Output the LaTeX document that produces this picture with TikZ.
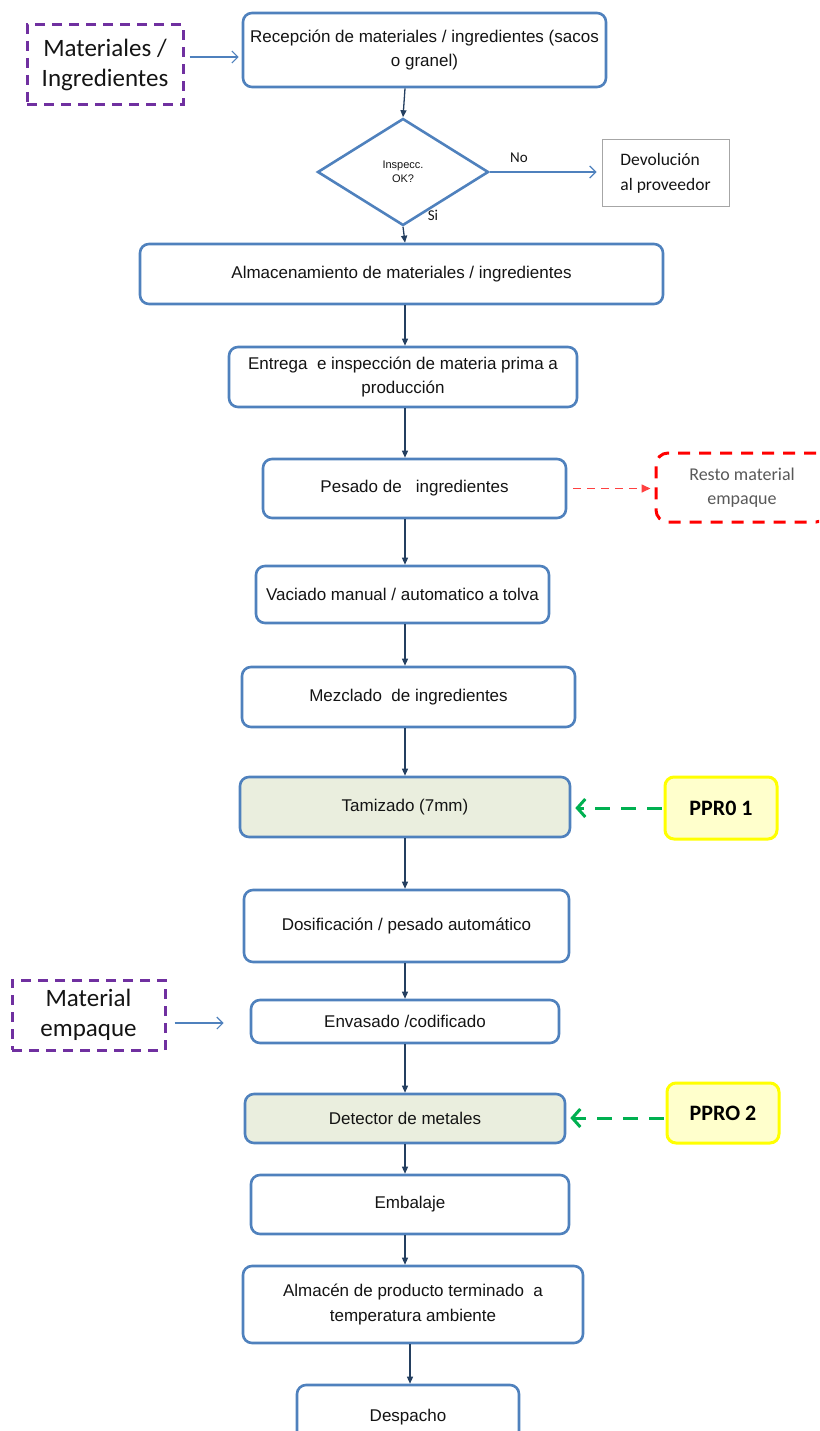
\documentclass[tikz,border=0pt]{standalone}
\usepackage{fontspec}
\setmainfont{Liberation Sans}
\newfontfamily\carl{Carlito}
\usetikzlibrary{arrows.meta,shapes.geometric}
\definecolor{boxblue}{RGB}{79,129,189}
\definecolor{navy}{RGB}{36,63,96}
\definecolor{purp}{RGB}{112,48,160}
\definecolor{ppgreen}{RGB}{0,176,80}
\definecolor{ppyellow}{RGB}{255,255,0}
\definecolor{ppfill}{RGB}{255,255,204}
\definecolor{ccpfill}{RGB}{234,238,222}
\definecolor{txt}{RGB}{20,20,20}
\tikzset{
  proc/.style={draw=boxblue, line width=2.6pt, rounded corners=9pt, fill=white,
    inner sep=0pt, align=center, text=txt, font=\fontsize{17}{24.5}\selectfont},
  ccp/.style={proc, fill=ccpfill},
  extbox/.style={draw=purp, line width=3pt, dash pattern=on 10pt off 7pt,
    inner sep=0pt, align=center, text=txt, font=\carl\fontsize{25}{30}\selectfont},
  ppro/.style={draw=ppyellow, line width=3pt, rounded corners=9pt, fill=ppfill,
    inner sep=0pt, font=\carl\bfseries\fontsize{22}{26}\selectfont},
  conn/.style={draw=navy, line width=1.3pt, -{Triangle[length=7pt,width=6pt]}},
  barrow/.style={draw=boxblue, line width=1.2pt, -{Straight Barb[length=6pt,width=12pt]}},
  garrow/.style={draw=ppgreen, line width=3pt, dash pattern=on 15pt off 11pt,
    -{Straight Barb[length=8pt,width=18pt,line width=3pt]}},
  rarrow/.style={draw=red!75, line width=1.6pt, dash pattern=on 8pt off 6pt,
    -{Triangle[length=9pt,width=8pt]}},
  lbl/.style={font=\carl\fontsize{15}{18}\selectfont, text=txt, inner sep=0pt}
}
\begin{document}
\begin{tikzpicture}[x=1pt,y=-1pt]
\useasboundingbox (0,0) rectangle (819,1431);
\clip (0,0) rectangle (819,1431);
\coordinate (spine) at (405,0);

\node[extbox, minimum width=156pt, minimum height=80pt] (mat1) at (105,65) {Materiales /\\Ingredientes};
\node[proc, minimum width=363pt, minimum height=74pt] (rec) at (424.5,50) {Recepción de materiales / ingredientes (sacos\\o granel)};
\node[draw=boxblue, line width=2.6pt, diamond, aspect=1.6, minimum width=171pt, minimum height=107pt, inner sep=0pt,
  align=center, text=txt, font=\fontsize{11}{14}\selectfont] (dia) at (403,172) {Inspecc.\\OK?};
\node[draw=black!35, line width=1pt, minimum width=127pt, minimum height=67pt, inner sep=0pt,
  align=left, text=txt, font=\carl\fontsize{17.5}{25}\selectfont] (dev) at (665.5,173.5) {Devolución\\al proveedor};
\node[proc, minimum width=523pt, minimum height=60pt] (alm) at (401.5,274) {Almacenamiento de materiales / ingredientes};
\node[proc, minimum width=348pt, minimum height=60pt] (ent) at (403,377) {Entrega \ e inspección de materia prima a\\producción};
\node[proc, minimum width=303pt, minimum height=59pt] (pes) at (414.5,488.5) {Pesado de \ \ ingredientes};
\node[draw=red, line width=3pt, dash pattern=on 12pt off 9pt, rounded corners=12pt, minimum width=172pt,
  minimum height=69pt, inner sep=0pt, align=center, text=black!65, font=\carl\fontsize{18}{24}\selectfont] (resto) at (742,487.5) {Resto material\\empaque};
\node[proc, minimum width=293pt, minimum height=57pt] (vac) at (402.5,594.5) {Vaciado manual / automatico a tolva};
\node[proc, minimum width=333pt, minimum height=60pt] (mez) at (408.5,697) {Mezclado \ de ingredientes};
\node[ccp, minimum width=330pt, minimum height=60pt] (tam) at (405,807) {Tamizado (7mm)};
\node[ppro, minimum width=112pt, minimum height=62pt] (pp1) at (721,808) {PPR0 1};
\node[proc, minimum width=325pt, minimum height=72pt] (dos) at (406.5,926) {Dosificación / pesado automático};
\node[extbox, minimum width=153pt, minimum height=70pt] (mat2) at (88.5,1015) {Material\\empaque};
\node[proc, minimum width=308pt, minimum height=43pt] (env) at (405,1021.5) {Envasado /codificado};
\node[ccp, minimum width=320pt, minimum height=49pt] (det) at (405,1118.5) {Detector de metales};
\node[ppro, minimum width=112pt, minimum height=60pt] (pp2) at (723,1113) {PPRO 2};
\node[proc, minimum width=318pt, minimum height=59pt] (emb) at (410,1204.5) {Embalaje};
\node[proc, minimum width=340pt, minimum height=77pt] (almp) at (413,1304.5) {Almacén de producto terminado \ a\\temperatura ambiente};
\node[proc, minimum width=222pt, minimum height=64pt] (des) at (408,1417) {Despacho};

% main flow
\draw[conn] (rec.south -| spine) -- (dia.north);
\draw[conn] (dia.south) -- (alm.north -| spine);
\draw[conn] (alm.south -| spine) -- (ent.north -| spine);
\draw[conn] (ent.south -| spine) -- (pes.north -| spine);
\draw[conn] (pes.south -| spine) -- (vac.north -| spine);
\draw[conn] (vac.south -| spine) -- (mez.north -| spine);
\draw[conn] (mez.south -| spine) -- (tam.north -| spine);
\draw[conn] (tam.south -| spine) -- (dos.north -| spine);
\draw[conn] (dos.south -| spine) -- (env.north -| spine);
\draw[conn] (env.south -| spine) -- (det.north -| spine);
\draw[conn] (det.south -| spine) -- (emb.north -| spine);
\draw[conn] (emb.south -| spine) -- (almp.north -| spine);
\draw[conn] ([xshift=5pt]almp.south -| spine) -- ([xshift=5pt]des.north -| spine);

% side arrows
\coordinate (a1) at ([xshift=5pt,yshift=8pt]mat1.east);
\draw[barrow, shorten >=3pt] (a1) -- (a1 -| rec.west);
\draw[barrow, shorten >=5pt] (dia.east) -- (dia.east -| dev.west);
\node[lbl] (no) at (519,158) {No};
\node[lbl] (si) at (433,215) {Si};
\coordinate (a2) at ([xshift=8pt,yshift=-8pt]mat2.east);
\draw[barrow, shorten >=26pt] (a2) -- (a2 -| env.west);
\draw[rarrow, shorten <=6pt, shorten >=4pt] (pes.east) -- (pes.east -| resto.west);
\draw[garrow, shorten <=2pt, shorten >=4pt] (pp1.west) -- (pp1.west -| tam.east);
\draw[garrow, shorten <=2pt, shorten >=4pt] ([yshift=-5pt]pp2.west) -- ([yshift=-5pt]pp2.west -| det.east);
\end{tikzpicture}
\end{document}
